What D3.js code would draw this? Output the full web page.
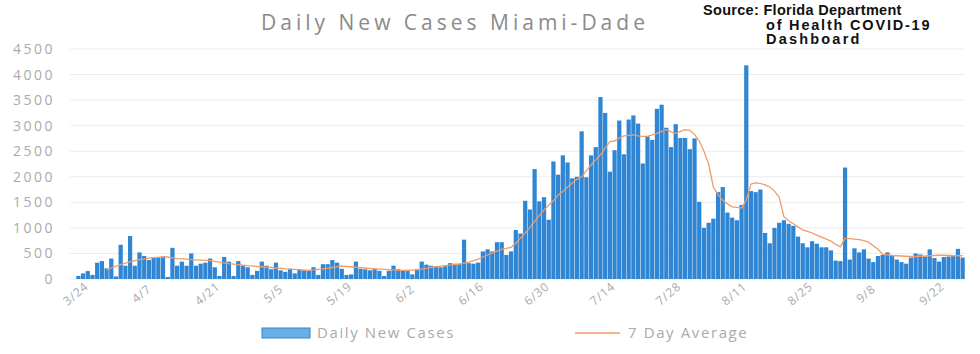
<!DOCTYPE html>
<html>
<head>
<meta charset="utf-8">
<script src="https://cdn.jsdelivr.net/npm/d3@7"></script>
<style>
  body { margin: 0; background: #fff; }
</style>
</head>
<body>
<div id="chart"></div>
<script>
// daily counts, 3/24 .. 9/28
var dailyCases = [
  60, 110, 155, 80, 320, 350, 210, 400, 50, 670, 260, 840, 260, 520, 450,
  370, 420, 420, 440, 40, 610, 260, 340, 260, 500, 260, 300, 320, 400, 230,
  60, 430, 340, 60, 350, 260, 230, 80, 160, 340, 260, 190, 320, 170, 140,
  200, 110, 190, 170, 160, 230, 80, 290, 290, 370, 320, 200, 80, 90, 340,
  200, 190, 170, 200, 160, 60, 160, 260, 190, 170, 160, 90, 190, 340, 280,
  260, 250, 230, 250, 310, 300, 300, 770, 310, 300, 320, 540, 580, 540, 720,
  720, 470, 540, 960, 890, 1530, 1360, 2150, 1520, 1600, 1160, 2300, 2040, 2420, 2280,
  1970, 2000, 2890, 1990, 2420, 2580, 3560, 3250, 2100, 2520, 3100, 2440, 3120, 3200, 3040,
  2260, 2790, 2720, 3330, 3410, 2960, 2580, 3030, 2760, 2760, 2540, 2750, 1510, 1000, 1100,
  1180, 1700, 1800, 1300, 1200, 1150, 1450, 4180, 1720, 1700, 1750, 900, 700, 1000, 1100,
  1150, 1080, 1040, 830, 700, 620, 740, 690, 620, 620, 560, 360, 350, 2180, 380,
  600, 520, 580, 400, 330, 450, 470, 520, 470, 380, 330, 300, 420, 500, 480,
  440, 580, 410, 340, 430, 440, 450, 590, 420
];

// 7 day average line, starts on day 7
var sevenDayAvg = [
  null, null, null, null, null, null,
  180, 215, 250, 280, 310, 335, 360, 380, 395, 410, 420, 425, 430, 430, 415,
  400, 395, 390, 380, 375, 370, 365, 360, 345, 330, 315, 300, 290, 280, 270,
  260, 255, 245, 240, 230, 225, 215, 210, 200, 195, 190, 185, 175, 175, 180,
  190, 200, 210, 225, 240, 250, 245, 240, 230, 220, 215, 205, 200, 195, 190,
  185, 180, 170, 170, 172, 175, 180, 195, 210, 230, 240, 250, 260, 270, 280,
  290, 310, 330, 360, 390, 430, 470, 510, 545, 580, 600, 620, 700, 800, 900,
  1010, 1130, 1240, 1350, 1450, 1530, 1640, 1710, 1800, 1880, 1950, 2000, 2120, 2230, 2330,
  2430, 2560, 2690, 2700, 2760, 2800, 2810, 2820, 2800, 2790, 2790, 2820, 2850, 2890, 2920,
  2880, 2850, 2890, 2920, 2910, 2830, 2700, 2500, 2250, 1800, 1650, 1540, 1470, 1410, 1400,
  1390, 1540, 1860, 1880, 1870, 1840, 1800, 1720, 1600, 1220, 1140, 1080, 1020, 960, 930,
  900, 860, 820, 780, 740, 680, 630, 800, 790, 780, 770, 750, 720, 650, 580,
  480, 470, 460, 455, 450, 445, 440, 440, 445, 450, 455, 460, 465, 465, 460, 455, 455, 455
];

var startDate = new Date(2020, 2, 24);
var yTicks = [0, 500, 1000, 1500, 2000, 2500, 3000, 3500, 4000, 4500];
var xTickLabels = ["3/24", "4/7", "4/21", "5/5", "5/19", "6/2", "6/16", "6/30",
                   "7/14", "7/28", "8/11", "8/25", "9/8", "9/22"];
var sourceLines = ["Source: Florida Department", "of Health  COVID-19", "Dashboard"];

var W = 980, H = 354;
var plot = {left: 76, right: 965, top: 49, bottom: 279};
var FONT = "'Open Sans', 'DejaVu Sans', sans-serif";

var svg = d3.select("#chart").append("svg")
    .attr("width", W)
    .attr("height", H)
    .attr("font-family", FONT);

var dates = dailyCases.map(function(d, i) { return d3.timeDay.offset(startDate, i); });
var fmt = function(d) { return (d.getMonth() + 1) + "/" + d.getDate(); };

var x = d3.scaleBand()
    .domain(d3.range(dailyCases.length))
    .range([plot.left, plot.right])
    .paddingInner(0.1)
    .paddingOuter(0.05);

var y = d3.scaleLinear()
    .domain([0, 4500])
    .range([plot.bottom, plot.top]);

// gridlines
svg.append("g")
    .selectAll("line")
    .data(yTicks)
  .enter().append("line")
    .attr("x1", plot.left - 6)
    .attr("x2", plot.right)
    .attr("y1", function(d) { return y(d); })
    .attr("y2", function(d) { return y(d); })
    .attr("stroke", "#ececec")
    .attr("stroke-width", 1);

// y labels
svg.append("g")
    .selectAll("text")
    .data(yTicks)
  .enter().append("text")
    .attr("x", 55)
    .attr("y", function(d) { return y(d) + 5; })
    .attr("text-anchor", "end")
    .attr("font-size", 14)
    .attr("letter-spacing", 2.5)
    .attr("fill", "#aaaaaa")
    .text(function(d) { return d; });

// bars
svg.append("g")
    .selectAll("rect")
    .data(dailyCases)
  .enter().append("rect")
    .attr("x", function(d, i) { return x(i); })
    .attr("width", x.bandwidth())
    .attr("y", function(d) { return y(d); })
    .attr("height", function(d) { return y(0) - y(d); })
    .attr("fill", "#2f86d4");

// 7 day average
var line = d3.line()
    .defined(function(d) { return d != null; })
    .x(function(d, i) { return x(i) + x.bandwidth() / 2; })
    .y(function(d) { return y(d); });

svg.append("path")
    .datum(sevenDayAvg)
    .attr("fill", "none")
    .attr("stroke", "#f29b68")
    .attr("stroke-width", 1.3)
    .attr("d", line);

// x labels, every 14 days
var tickIdx = dates.map(function(d, i) { return i; })
    .filter(function(i) { return xTickLabels.indexOf(fmt(dates[i])) >= 0; });

svg.append("g")
    .selectAll("text")
    .data(tickIdx)
  .enter().append("text")
    .attr("transform", function(i) {
        return "translate(" + (x(i) + x.bandwidth() / 2) + ",297) rotate(-40)";
    })
    .attr("text-anchor", "middle")
    .attr("font-size", 12)
    .attr("letter-spacing", 0.8)
    .attr("fill", "#aaaaaa")
    .text(function(i) { return fmt(dates[i]); });

// title
svg.append("text")
    .attr("x", 455)
    .attr("y", 30)
    .attr("text-anchor", "middle")
    .attr("font-size", 21)
    .attr("letter-spacing", 4)
    .attr("fill", "#8a8a8a")
    .text("Daily New Cases Miami-Dade");

// source note
var srcSpacing = [0.3, 1.8, 2.2];
svg.append("g")
    .selectAll("text")
    .data(sourceLines)
  .enter().append("text")
    .attr("x", function(d, i) { return i == 0 ? 703 : 766; })
    .attr("y", function(d, i) { return 15 + i * 14.5; })
    .attr("font-family", "'Liberation Sans', Arial, sans-serif")
    .attr("font-size", 14.5)
    .attr("font-weight", "bold")
    .attr("letter-spacing", function(d, i) { return srcSpacing[i]; })
    .attr("fill", "#111")
    .text(function(d) { return d; });

// legend
var legend = svg.append("g");
legend.append("rect")
    .attr("x", 262).attr("y", 328)
    .attr("width", 48).attr("height", 10)
    .attr("fill", "#6aaee6")
    .attr("stroke", "#2f86d4");
legend.append("text")
    .attr("x", 317).attr("y", 338)
    .attr("font-size", 15)
    .attr("letter-spacing", 1.6)
    .attr("fill", "#aaaaaa")
    .text("Daily New Cases");
legend.append("line")
    .attr("x1", 575).attr("x2", 620)
    .attr("y1", 333).attr("y2", 333)
    .attr("stroke", "#f29b68")
    .attr("stroke-width", 1.5);
legend.append("text")
    .attr("x", 628).attr("y", 338)
    .attr("font-size", 15)
    .attr("letter-spacing", 1.6)
    .attr("fill", "#aaaaaa")
    .text("7 Day Average");
</script>
</body>
</html>
